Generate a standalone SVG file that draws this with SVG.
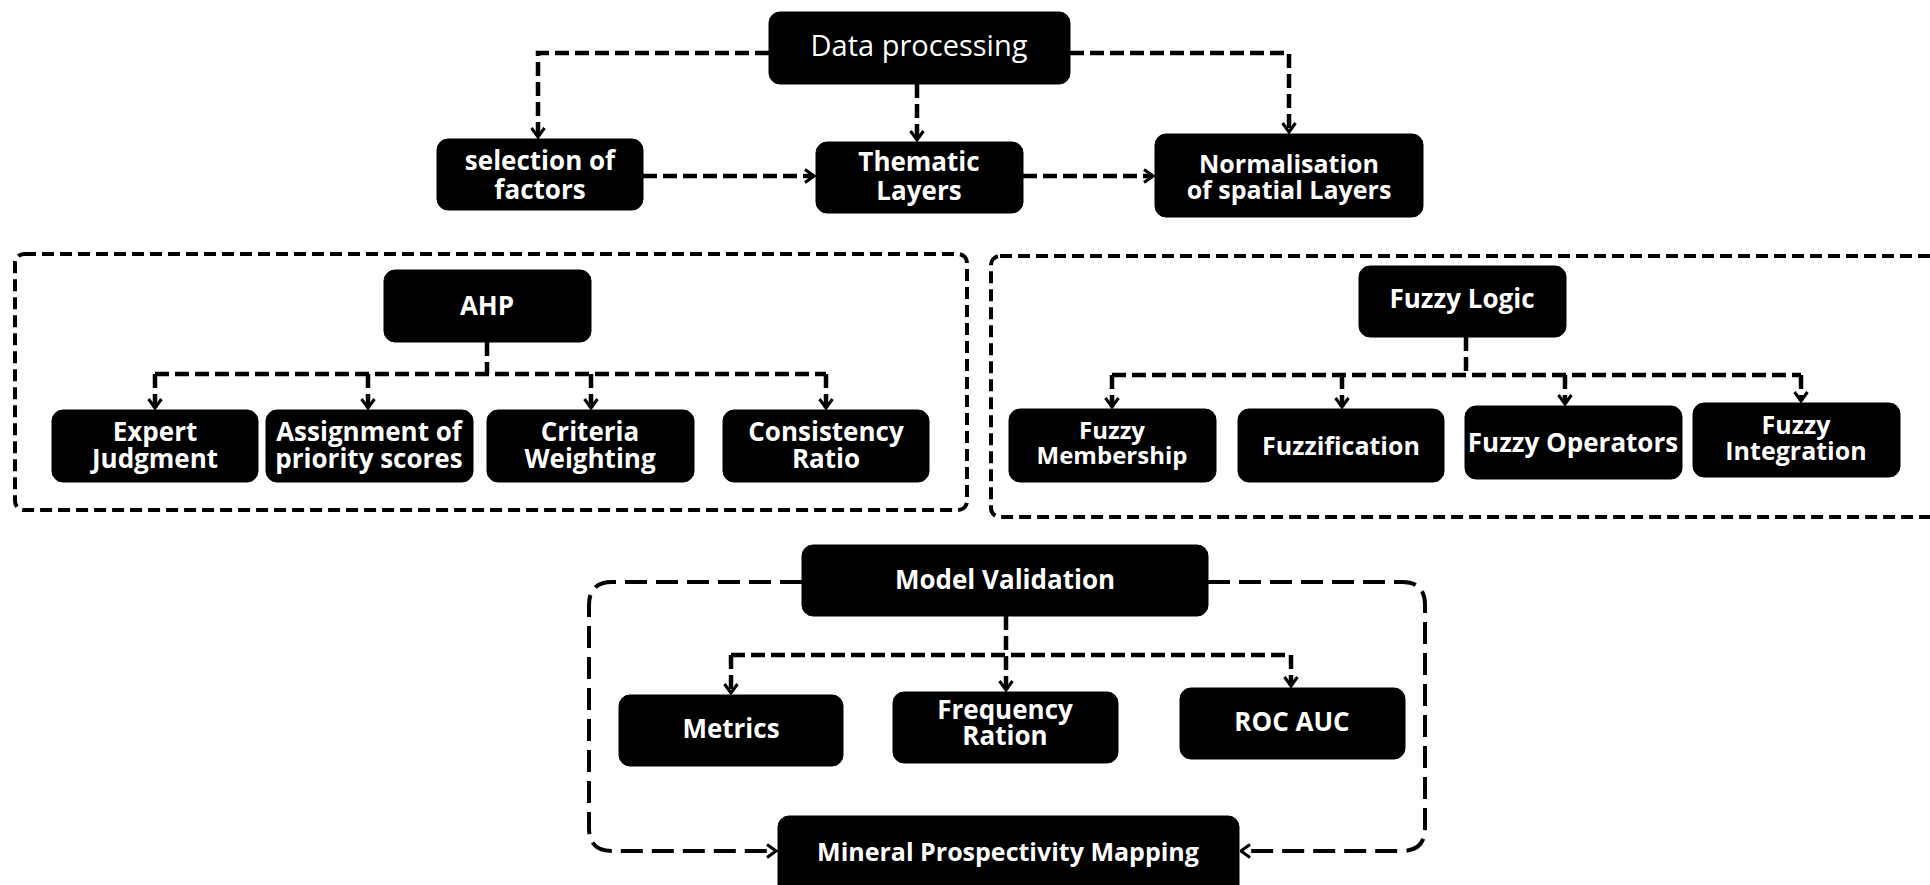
<svg xmlns="http://www.w3.org/2000/svg" width="1930" height="885" viewBox="0 0 1930 885">
<defs>
<style>
.box{fill:#000;stroke:#000;stroke-width:1}
.t{font-family:"Open Sans","Liberation Sans",sans-serif;font-weight:700;fill:#fff;text-anchor:middle}
.tr{font-family:"Open Sans","Liberation Sans",sans-serif;font-weight:400;fill:#fff;text-anchor:middle}
.c{fill:none;stroke:#000;stroke-width:4.5;stroke-dasharray:14 6}
.ca{fill:none;stroke:#000;stroke-width:4.5;stroke-dasharray:14 6;marker-end:url(#ah)}
.loop{fill:none;stroke:#000;stroke-width:4;stroke-dasharray:22 9;marker-end:url(#ah)}
.grp{fill:none;stroke:#000;stroke-width:4;stroke-dasharray:12 6}
</style>
<marker id="ah" markerUnits="userSpaceOnUse" viewBox="0 0 12 16" refX="11" refY="8" markerWidth="13" markerHeight="16" orient="auto">
<path d="M2,1.5 L11,8 L2,14.5" fill="none" stroke="#000" stroke-width="3"/>
</marker>
</defs>
<rect width="1930" height="885" fill="#fff"/>

<g id="groups">
<rect x="15" y="254" width="952" height="256" rx="9" class="grp"/>
<rect x="991" y="256" width="960" height="261" rx="9" class="grp"/>
</g>

<g id="connectors">
<path class="ca" d="M769,53 H538 V137"/>
<path class="ca" d="M917,84 V140"/>
<path class="ca" d="M1070,53 H1289 V132"/>
<path class="ca" d="M643,176 H814"/>
<path class="ca" d="M1023,176 H1153"/>
<path class="c" d="M487,342 V374"/>
<path class="c" d="M155,374 H826"/>
<path class="ca" d="M155,374 V408"/>
<path class="ca" d="M368,374 V408"/>
<path class="ca" d="M591,374 V408"/>
<path class="ca" d="M826,374 V408"/>
<path class="c" d="M1466,337 V375"/>
<path class="c" d="M1112,375 H1801"/>
<path class="ca" d="M1112,375 V407"/>
<path class="ca" d="M1342,375 V407"/>
<path class="ca" d="M1565,375 V404"/>
<path class="ca" d="M1801,375 V401"/>
<path class="ca" d="M1006,616 V690"/>
<path class="c" d="M731,655 H1291"/>
<path class="ca" d="M731,655 V693"/>
<path class="ca" d="M1291,655 V686"/>
<path class="loop" d="M802,582 H612 Q589,582 589,605 V828 Q589,851 612,851 H776"/>
<path class="loop" d="M1208,582 H1402 Q1425,582 1425,605 V828 Q1425,851 1402,851 H1241"/>
</g>

<g id="data-processing">
<rect class="box" x="769" y="12" width="301" height="72" rx="11"/>
<text class="tr" x="919" y="56" font-size="29">Data processing</text>
</g>
<g id="selection-of-factors">
<rect class="box" x="437" y="139" width="206" height="71" rx="11"/>
<text class="t" x="540" y="170" font-size="26">selection of<tspan x="540" dy="29">factors</tspan></text>
</g>
<g id="thematic-layers">
<rect class="box" x="816" y="142" width="207" height="71" rx="11"/>
<text class="t" x="919" y="171" font-size="26">Thematic<tspan x="919" dy="29">Layers</tspan></text>
</g>
<g id="normalisation">
<rect class="box" x="1155" y="134" width="268" height="83" rx="11"/>
<text class="t" x="1289" y="173" font-size="25">Normalisation<tspan x="1289" dy="26">of spatial Layers</tspan></text>
</g>

<g id="ahp">
<rect class="box" x="384" y="270" width="207" height="72" rx="11"/>
<text class="t" x="487" y="315" font-size="26">AHP</text>
</g>
<g id="expert-judgment">
<rect class="box" x="52" y="410" width="206" height="72" rx="11"/>
<text class="t" x="155" y="441" font-size="26">Expert<tspan x="155" dy="27">Judgment</tspan></text>
</g>
<g id="assignment">
<rect class="box" x="266" y="410" width="207" height="72" rx="11"/>
<text class="t" x="369" y="441" font-size="26">Assignment of<tspan x="369" dy="27">priority scores</tspan></text>
</g>
<g id="criteria-weighting">
<rect class="box" x="487" y="410" width="207" height="72" rx="11"/>
<text class="t" x="590" y="441" font-size="26">Criteria<tspan x="590" dy="27">Weighting</tspan></text>
</g>
<g id="consistency-ratio">
<rect class="box" x="723" y="410" width="206" height="72" rx="11"/>
<text class="t" x="826" y="441" font-size="26">Consistency<tspan x="826" dy="27">Ratio</tspan></text>
</g>

<g id="fuzzy-logic">
<rect class="box" x="1359" y="266" width="207" height="71" rx="11"/>
<text class="t" x="1462" y="308" font-size="26">Fuzzy Logic</text>
</g>
<g id="fuzzy-membership">
<rect class="box" x="1009" y="409" width="207" height="73" rx="11"/>
<text class="t" x="1112" y="439" font-size="24">Fuzzy<tspan x="1112" dy="25">Membership</tspan></text>
</g>
<g id="fuzzification">
<rect class="box" x="1238" y="409" width="206" height="73" rx="11"/>
<text class="t" x="1341" y="455" font-size="25">Fuzzification</text>
</g>
<g id="fuzzy-operators">
<rect class="box" x="1465" y="406" width="217" height="73" rx="11"/>
<text class="t" x="1573" y="452" font-size="26">Fuzzy Operators</text>
</g>
<g id="fuzzy-integration">
<rect class="box" x="1693" y="403" width="207" height="74" rx="11"/>
<text class="t" x="1796" y="434" font-size="25">Fuzzy<tspan x="1796" dy="26">Integration</tspan></text>
</g>

<g id="model-validation">
<rect class="box" x="802" y="545" width="406" height="71" rx="11"/>
<text class="t" x="1005" y="589" font-size="26">Model Validation</text>
</g>
<g id="metrics">
<rect class="box" x="619" y="695" width="224" height="71" rx="11"/>
<text class="t" x="731" y="738" font-size="26">Metrics</text>
</g>
<g id="frequency-ration">
<rect class="box" x="893" y="692" width="225" height="71" rx="11"/>
<text class="t" x="1005" y="719" font-size="26">Frequency<tspan x="1005" dy="26">Ration</tspan></text>
</g>
<g id="roc-auc">
<rect class="box" x="1180" y="688" width="225" height="71" rx="11"/>
<text class="t" x="1292" y="731" font-size="26">ROC AUC</text>
</g>
<g id="mineral-prospectivity-mapping">
<rect class="box" x="778" y="816" width="461" height="85" rx="11"/>
<text class="t" x="1008" y="861" font-size="25">Mineral Prospectivity Mapping</text>
</g>
</svg>
